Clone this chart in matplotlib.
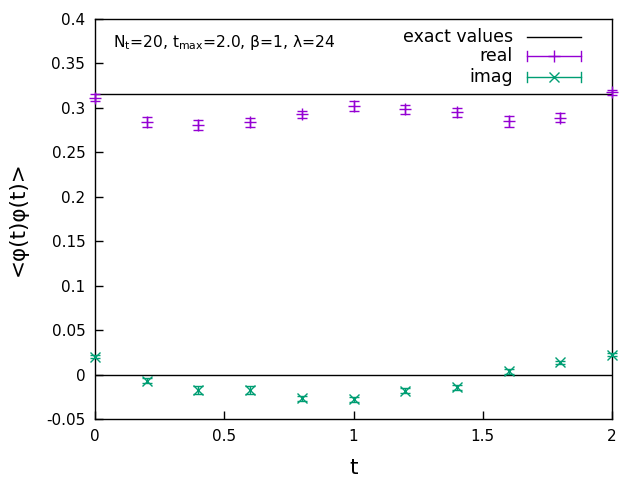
import matplotlib
matplotlib.use("Agg")
import matplotlib.pyplot as plt
from matplotlib.lines import Line2D

t = [0.0, 0.2, 0.4, 0.6, 0.8, 1.0, 1.2, 1.4, 1.6, 1.8, 2.0]
real_vals = [0.3115, 0.2838, 0.2805, 0.2840, 0.2930, 0.3020, 0.2985, 0.2950, 0.2850, 0.2887, 0.3176]
real_err = [0.004, 0.0055, 0.0055, 0.005, 0.004, 0.0055, 0.005, 0.005, 0.006, 0.005, 0.003]
imag_vals = [0.0201, -0.0068, -0.0173, -0.0173, -0.0267, -0.0278, -0.0181, -0.0143, 0.0037, 0.0138, 0.0224]
imag_err = [0.002, 0.003, 0.0045, 0.0045, 0.003, 0.003, 0.003, 0.003, 0.003, 0.002, 0.002]
exact_real = 0.3153
exact_imag = 0.0

yticks = [-0.05, 0, 0.05, 0.1, 0.15, 0.2, 0.25, 0.3, 0.35, 0.4]
ytick_labels = ["-0.05", "0", "0.05", "0.1", "0.15", "0.2", "0.25", "0.3", "0.35", "0.4"]
xticks = [0, 0.5, 1, 1.5, 2]
xtick_labels = ["0", "0.5", "1", "1.5", "2"]

purple = "#9400D3"
green = "#009E73"

plt.rcParams["font.family"] = ["DejaVu Sans"]
fig = plt.figure(figsize=(6.4, 4.8), dpi=100)
ax = fig.add_axes([95/640, 1-419/480, (612-95)/640, (419-19)/480])

ax.axhline(exact_real, color="black", lw=1.0, zorder=2)
ax.axhline(exact_imag, color="black", lw=1.0, zorder=2)

eb1 = ax.errorbar(t, real_vals, yerr=real_err, fmt="+", color=purple, ms=8, mew=1.0,
                  elinewidth=1.0, capsize=3.5, capthick=1.0, zorder=3)
eb2 = ax.errorbar(t, imag_vals, yerr=imag_err, fmt="x", color=green, ms=7, mew=1.0,
                  elinewidth=1.0, capsize=3.5, capthick=1.0, zorder=3)
for eb in (eb1, eb2):
    for art in eb.get_children():
        art.set_clip_on(False)

ax.set_xlim(0, 2)
ax.set_ylim(-0.05, 0.4)
ax.set_xticks(xticks)
ax.set_xticklabels(xtick_labels)
ax.set_yticks(yticks)
ax.set_yticklabels(ytick_labels)
ax.tick_params(direction="in", length=6, width=1, labelsize=11, pad=7)
for s in ax.spines.values():
    s.set_linewidth(1.0)

ax.set_xlabel("t", fontsize=15.5, labelpad=10)
ax.set_ylabel("<φ(t)φ(t)>", fontsize=15.5, labelpad=13)

ax.text(0.035, 0.94, r"N$_\mathregular{t}$=20, t$_\mathregular{max}$=2.0, β=1, λ=24",
        transform=ax.transAxes, fontsize=11.2, va="center", ha="left")

# legend (gnuplot style)
rows = [(0.955, "exact values"), (0.907, "real"), (0.855, "imag")]
x_text = (513-95)/517
x0, x1 = (527-95)/517, (581-95)/517
xm = (x0 + x1) / 2
for (yy, lab) in rows:
    ax.text(x_text, yy, lab, transform=ax.transAxes, fontsize=12.5, ha="right", va="center")
ax.add_line(Line2D([x0, x1], [rows[0][0]]*2, transform=ax.transAxes, color="black", lw=1.0))
for (yy, _), col, mk, ms in [(rows[1], purple, "+", 8), (rows[2], green, "x", 7)]:
    ax.add_line(Line2D([x0, x1], [yy, yy], transform=ax.transAxes, color=col, lw=1.0))
    ax.add_line(Line2D([x0, x0], [yy-0.012, yy+0.012], transform=ax.transAxes, color=col, lw=1.0))
    ax.add_line(Line2D([x1, x1], [yy-0.012, yy+0.012], transform=ax.transAxes, color=col, lw=1.0))
    ax.add_line(Line2D([xm], [yy], transform=ax.transAxes, color=col, marker=mk, ms=ms, mew=1.0, ls="none"))

fig.savefig("out.png", dpi=100)
